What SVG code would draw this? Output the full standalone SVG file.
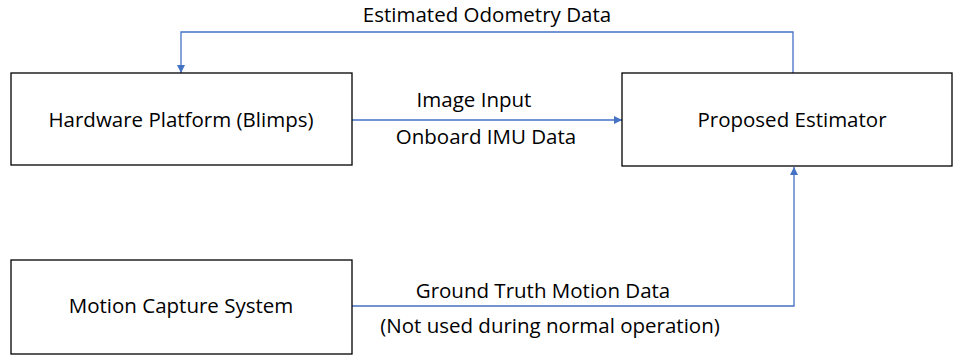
<svg xmlns="http://www.w3.org/2000/svg" width="953" height="356" viewBox="0 0 953 356">
  <style>
    .box { fill: #ffffff; stroke: #000000; stroke-width: 1.3; }
    .lbl { font-family: "Open Sans", "Liberation Sans", sans-serif; font-size: 20.5px; fill: #000000; }
    .mid { text-anchor: middle; }
    .wire { fill: none; stroke: #4472C4; stroke-width: 1.3; }
  </style>
  <defs>
    <marker id="arrow" viewBox="0 0 10 10" refX="10" refY="5" markerWidth="8" markerHeight="8" markerUnits="userSpaceOnUse" orient="auto">
      <path d="M0,0 L10,5 L0,10 z" fill="#4472C4"/>
    </marker>
  </defs>
  <rect width="953" height="356" fill="#ffffff"/>

  <g id="connectors">
    <!-- estimator feedback to hardware -->
    <path class="wire" d="M793,73 V32 H181 V73" marker-end="url(#arrow)"/>
    <!-- hardware to estimator -->
    <path class="wire" d="M352,120 H622" marker-end="url(#arrow)"/>
    <!-- motion capture to estimator -->
    <path class="wire" d="M352,306 H794 V167" marker-end="url(#arrow)"/>
  </g>

  <g id="labels">
    <text class="lbl mid" x="487" y="22">Estimated Odometry Data</text>
    <text class="lbl mid" x="474" y="107">Image Input</text>
    <text class="lbl mid" x="486" y="144">Onboard IMU Data</text>
    <text class="lbl mid" x="543" y="298">Ground Truth Motion Data</text>
    <text class="lbl mid" x="550" y="333">(Not used during normal operation)</text>
  </g>

  <g id="hardware">
    <rect class="box" x="11" y="73" width="341" height="92"/>
    <text class="lbl mid" x="181" y="127">Hardware Platform (Blimps)</text>
  </g>

  <g id="estimator">
    <rect class="box" x="622" y="73" width="330" height="93"/>
    <text class="lbl mid" x="792" y="127">Proposed Estimator</text>
  </g>

  <g id="mocap">
    <rect class="box" x="11" y="260" width="341" height="94"/>
    <text class="lbl mid" x="181" y="313">Motion Capture System</text>
  </g>
</svg>
